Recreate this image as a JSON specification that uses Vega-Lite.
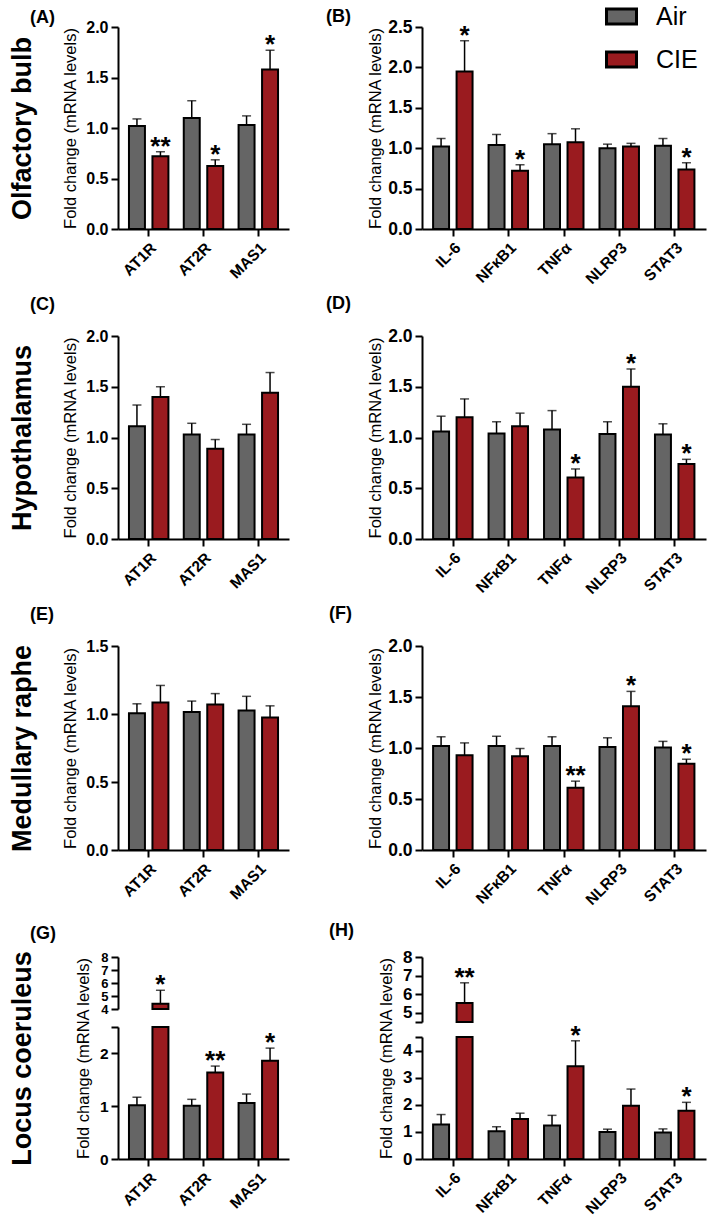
{
  "$schema": "https://vega.github.io/schema/vega-lite/v6.json",
  "padding": {"left": 8, "top": 0, "right": 4, "bottom": 4},
  "datasets": {
    "A": [
      {"gene": "AT1R", "group": "Air", "value": 1.02, "hi": 1.09, "sig": ""},
      {"gene": "AT1R", "group": "CIE", "value": 0.72, "hi": 0.765, "sig": "**"},
      {"gene": "AT2R", "group": "Air", "value": 1.10, "hi": 1.27, "sig": ""},
      {"gene": "AT2R", "group": "CIE", "value": 0.625, "hi": 0.685, "sig": "*"},
      {"gene": "MAS1", "group": "Air", "value": 1.03, "hi": 1.12, "sig": ""},
      {"gene": "MAS1", "group": "CIE", "value": 1.58, "hi": 1.77, "sig": "*"}
    ],
    "B": [
      {"gene": "IL-6", "group": "Air", "value": 1.02, "hi": 1.12, "sig": ""},
      {"gene": "IL-6", "group": "CIE", "value": 1.95, "hi": 2.33, "sig": "*"},
      {"gene": "NFκB1", "group": "Air", "value": 1.04, "hi": 1.17, "sig": ""},
      {"gene": "NFκB1", "group": "CIE", "value": 0.72, "hi": 0.795, "sig": "*"},
      {"gene": "TNFα", "group": "Air", "value": 1.05, "hi": 1.18, "sig": ""},
      {"gene": "TNFα", "group": "CIE", "value": 1.075, "hi": 1.24, "sig": ""},
      {"gene": "NLRP3", "group": "Air", "value": 1.00, "hi": 1.05, "sig": ""},
      {"gene": "NLRP3", "group": "CIE", "value": 1.02, "hi": 1.06, "sig": ""},
      {"gene": "STAT3", "group": "Air", "value": 1.03, "hi": 1.12, "sig": ""},
      {"gene": "STAT3", "group": "CIE", "value": 0.735, "hi": 0.82, "sig": "*"}
    ],
    "C": [
      {"gene": "AT1R", "group": "Air", "value": 1.11, "hi": 1.32, "sig": ""},
      {"gene": "AT1R", "group": "CIE", "value": 1.40, "hi": 1.50, "sig": ""},
      {"gene": "AT2R", "group": "Air", "value": 1.03, "hi": 1.14, "sig": ""},
      {"gene": "AT2R", "group": "CIE", "value": 0.89, "hi": 0.98, "sig": ""},
      {"gene": "MAS1", "group": "Air", "value": 1.03, "hi": 1.13, "sig": ""},
      {"gene": "MAS1", "group": "CIE", "value": 1.44, "hi": 1.64, "sig": ""}
    ],
    "D": [
      {"gene": "IL-6", "group": "Air", "value": 1.06, "hi": 1.21, "sig": ""},
      {"gene": "IL-6", "group": "CIE", "value": 1.20, "hi": 1.38, "sig": ""},
      {"gene": "NFκB1", "group": "Air", "value": 1.04, "hi": 1.155, "sig": ""},
      {"gene": "NFκB1", "group": "CIE", "value": 1.11, "hi": 1.24, "sig": ""},
      {"gene": "TNFα", "group": "Air", "value": 1.08, "hi": 1.265, "sig": ""},
      {"gene": "TNFα", "group": "CIE", "value": 0.605, "hi": 0.69, "sig": "*"},
      {"gene": "NLRP3", "group": "Air", "value": 1.035, "hi": 1.155, "sig": ""},
      {"gene": "NLRP3", "group": "CIE", "value": 1.50, "hi": 1.675, "sig": "*"},
      {"gene": "STAT3", "group": "Air", "value": 1.03, "hi": 1.135, "sig": ""},
      {"gene": "STAT3", "group": "CIE", "value": 0.74, "hi": 0.785, "sig": "*"}
    ],
    "E": [
      {"gene": "AT1R", "group": "Air", "value": 1.005, "hi": 1.075, "sig": ""},
      {"gene": "AT1R", "group": "CIE", "value": 1.085, "hi": 1.21, "sig": ""},
      {"gene": "AT2R", "group": "Air", "value": 1.015, "hi": 1.095, "sig": ""},
      {"gene": "AT2R", "group": "CIE", "value": 1.07, "hi": 1.15, "sig": ""},
      {"gene": "MAS1", "group": "Air", "value": 1.025, "hi": 1.13, "sig": ""},
      {"gene": "MAS1", "group": "CIE", "value": 0.975, "hi": 1.06, "sig": ""}
    ],
    "F": [
      {"gene": "IL-6", "group": "Air", "value": 1.02, "hi": 1.11, "sig": ""},
      {"gene": "IL-6", "group": "CIE", "value": 0.93, "hi": 1.05, "sig": ""},
      {"gene": "NFκB1", "group": "Air", "value": 1.02, "hi": 1.115, "sig": ""},
      {"gene": "NFκB1", "group": "CIE", "value": 0.92, "hi": 0.995, "sig": ""},
      {"gene": "TNFα", "group": "Air", "value": 1.02, "hi": 1.11, "sig": ""},
      {"gene": "TNFα", "group": "CIE", "value": 0.61, "hi": 0.675, "sig": "**"},
      {"gene": "NLRP3", "group": "Air", "value": 1.01, "hi": 1.10, "sig": ""},
      {"gene": "NLRP3", "group": "CIE", "value": 1.41, "hi": 1.555, "sig": "*"},
      {"gene": "STAT3", "group": "Air", "value": 1.005, "hi": 1.065, "sig": ""},
      {"gene": "STAT3", "group": "CIE", "value": 0.845, "hi": 0.89, "sig": "*"}
    ],
    "G": [
      {"gene": "AT1R", "group": "Air", "value": 1.02, "hi": 1.17, "sig": ""},
      {"gene": "AT1R", "group": "CIE", "value": 4.41, "hi": 5.44, "sig": "*"},
      {"gene": "AT2R", "group": "Air", "value": 1.01, "hi": 1.13, "sig": ""},
      {"gene": "AT2R", "group": "CIE", "value": 1.64, "hi": 1.76, "sig": "**"},
      {"gene": "MAS1", "group": "Air", "value": 1.06, "hi": 1.23, "sig": ""},
      {"gene": "MAS1", "group": "CIE", "value": 1.86, "hi": 2.10, "sig": "*"}
    ],
    "H": [
      {"gene": "IL-6", "group": "Air", "value": 1.27, "hi": 1.64, "sig": ""},
      {"gene": "IL-6", "group": "CIE", "value": 5.52, "hi": 6.61, "sig": "**"},
      {"gene": "NFκB1", "group": "Air", "value": 1.02, "hi": 1.19, "sig": ""},
      {"gene": "NFκB1", "group": "CIE", "value": 1.48, "hi": 1.69, "sig": ""},
      {"gene": "TNFα", "group": "Air", "value": 1.24, "hi": 1.61, "sig": ""},
      {"gene": "TNFα", "group": "CIE", "value": 3.42, "hi": 4.36, "sig": "*"},
      {"gene": "NLRP3", "group": "Air", "value": 1.00, "hi": 1.10, "sig": ""},
      {"gene": "NLRP3", "group": "CIE", "value": 1.96, "hi": 2.58, "sig": ""},
      {"gene": "STAT3", "group": "Air", "value": 0.98, "hi": 1.11, "sig": ""},
      {"gene": "STAT3", "group": "CIE", "value": 1.78, "hi": 2.09, "sig": "*"}
    ]
  },
  "concat": [
    {
      "width": 171, "height": 202,
      "title": {"text": "(A)", "frame": "group", "dx": -88, "offset": -8},
      "data": {"name": "A"},
      "encoding": {
        "x": {"field": "gene", "type": "nominal", "sort": null, "scale": {"paddingInner": 0.28, "paddingOuter": 0.2}, "axis": {"title": null}},
        "xOffset": {"field": "group", "type": "nominal", "scale": {"paddingInner": 0.32, "paddingOuter": 0}}
      },
      "layer": [
        {"layer": [
          {"mark": {"type": "bar", "stroke": "black", "strokeWidth": 2},
           "encoding": {
             "y": {"field": "value", "type": "quantitative", "scale": {"domain": [0, 2], "nice": false}, "axis": {"title": "Fold change (mRNA levels)", "values": [0, 0.5, 1, 1.5, 2], "format": ".1f", "labelFontSize": 16}},
             "color": {"field": "group", "type": "nominal", "scale": {"domain": ["Air", "CIE"], "range": ["#656565", "#9a1b1f"]}, "legend": {"title": null, "orient": "none", "legendX": 487, "legendY": -27}}
           }},
          {"mark": {"type": "rule", "color": "black", "strokeWidth": 1.5}, "encoding": {"y": {"field": "value", "type": "quantitative"}, "y2": {"field": "hi"}}},
          {"mark": {"type": "tick", "color": "black", "thickness": 1.5, "size": 9, "orient": "horizontal"}, "encoding": {"y": {"field": "hi", "type": "quantitative"}}},
          {"mark": {"type": "text", "fontSize": 26, "fontWeight": "bold", "baseline": "alphabetic", "dy": 3, "color": "black"}, "encoding": {"y": {"field": "hi", "type": "quantitative"}, "text": {"field": "sig"}}}
        ]},
        {"transform": [{"filter": "datum.value < 0"}], "mark": {"type": "rule"}, "encoding": {"y": {"field": "value", "type": "quantitative", "scale": {"domain": [0, 1]}, "axis": {"title": "Olfactory bulb", "orient": "left", "offset": 76, "labels": false, "ticks": false, "domain": false, "titleFontSize": 27, "titleFontWeight": "bold", "titlePadding": 6}}}}
      ],
      "resolve": {"scale": {"y": "independent"}, "axis": {"y": "independent"}}
    },
    {
      "width": 284, "height": 202,
      "title": {"text": "(B)", "frame": "group", "dx": -96, "offset": -8},
      "data": {"name": "B"},
      "encoding": {
        "x": {"field": "gene", "type": "nominal", "sort": null, "scale": {"paddingInner": 0.28, "paddingOuter": 0.2}, "axis": {"title": null}},
        "xOffset": {"field": "group", "type": "nominal", "scale": {"paddingInner": 0.32, "paddingOuter": 0}}
      },
      "layer": [
        {"mark": {"type": "bar", "stroke": "black", "strokeWidth": 2},
         "encoding": {
           "y": {"field": "value", "type": "quantitative", "scale": {"domain": [0, 2.5], "nice": false}, "axis": {"title": "Fold change (mRNA levels)", "values": [0, 0.5, 1, 1.5, 2, 2.5], "format": ".1f", "labelFontSize": 17.5, "titlePadding": 4}},
           "color": {"field": "group", "type": "nominal", "scale": {"domain": ["Air", "CIE"], "range": ["#656565", "#9a1b1f"]}, "legend": {"title": null, "orient": "none", "legendX": 487, "legendY": -27}}
         }},
        {"mark": {"type": "rule", "color": "black", "strokeWidth": 1.5}, "encoding": {"y": {"field": "value", "type": "quantitative"}, "y2": {"field": "hi"}}},
        {"mark": {"type": "tick", "color": "black", "thickness": 1.5, "size": 9, "orient": "horizontal"}, "encoding": {"y": {"field": "hi", "type": "quantitative"}}},
        {"mark": {"type": "text", "fontSize": 26, "fontWeight": "bold", "baseline": "alphabetic", "dy": 3, "color": "black"}, "encoding": {"y": {"field": "hi", "type": "quantitative"}, "text": {"field": "sig"}}}
      ]
    },
    {
      "width": 171, "height": 203,
      "title": {"text": "(C)", "frame": "group", "dx": -88, "offset": 14},
      "data": {"name": "C"},
      "encoding": {
        "x": {"field": "gene", "type": "nominal", "sort": null, "scale": {"paddingInner": 0.28, "paddingOuter": 0.2}, "axis": {"title": null}},
        "xOffset": {"field": "group", "type": "nominal", "scale": {"paddingInner": 0.32, "paddingOuter": 0}}
      },
      "layer": [
        {"layer": [
          {"mark": {"type": "bar", "stroke": "black", "strokeWidth": 2},
           "encoding": {
             "y": {"field": "value", "type": "quantitative", "scale": {"domain": [0, 2], "nice": false}, "axis": {"title": "Fold change (mRNA levels)", "values": [0, 0.5, 1, 1.5, 2], "format": ".1f", "labelFontSize": 16}},
             "color": {"field": "group", "type": "nominal", "scale": {"domain": ["Air", "CIE"], "range": ["#656565", "#9a1b1f"]}, "legend": {"title": null, "orient": "none", "legendX": 487, "legendY": -27}}
           }},
          {"mark": {"type": "rule", "color": "black", "strokeWidth": 1.5}, "encoding": {"y": {"field": "value", "type": "quantitative"}, "y2": {"field": "hi"}}},
          {"mark": {"type": "tick", "color": "black", "thickness": 1.5, "size": 9, "orient": "horizontal"}, "encoding": {"y": {"field": "hi", "type": "quantitative"}}},
          {"mark": {"type": "text", "fontSize": 26, "fontWeight": "bold", "baseline": "alphabetic", "dy": 3, "color": "black"}, "encoding": {"y": {"field": "hi", "type": "quantitative"}, "text": {"field": "sig"}}}
        ]},
        {"transform": [{"filter": "datum.value < 0"}], "mark": {"type": "rule"}, "encoding": {"y": {"field": "value", "type": "quantitative", "scale": {"domain": [0, 1]}, "axis": {"title": "Hypothalamus", "orient": "left", "offset": 76, "labels": false, "ticks": false, "domain": false, "titleFontSize": 27, "titleFontWeight": "bold", "titlePadding": 6}}}}
      ],
      "resolve": {"scale": {"y": "independent"}, "axis": {"y": "independent"}}
    },
    {
      "width": 284, "height": 203,
      "title": {"text": "(D)", "frame": "group", "dx": -96, "offset": 14},
      "data": {"name": "D"},
      "encoding": {
        "x": {"field": "gene", "type": "nominal", "sort": null, "scale": {"paddingInner": 0.28, "paddingOuter": 0.2}, "axis": {"title": null}},
        "xOffset": {"field": "group", "type": "nominal", "scale": {"paddingInner": 0.32, "paddingOuter": 0}}
      },
      "layer": [
        {"mark": {"type": "bar", "stroke": "black", "strokeWidth": 2},
         "encoding": {
           "y": {"field": "value", "type": "quantitative", "scale": {"domain": [0, 2], "nice": false}, "axis": {"title": "Fold change (mRNA levels)", "values": [0, 0.5, 1, 1.5, 2], "format": ".1f", "labelFontSize": 17.5, "titlePadding": 4}},
           "color": {"field": "group", "type": "nominal", "scale": {"domain": ["Air", "CIE"], "range": ["#656565", "#9a1b1f"]}, "legend": {"title": null, "orient": "none", "legendX": 487, "legendY": -27}}
         }},
        {"mark": {"type": "rule", "color": "black", "strokeWidth": 1.5}, "encoding": {"y": {"field": "value", "type": "quantitative"}, "y2": {"field": "hi"}}},
        {"mark": {"type": "tick", "color": "black", "thickness": 1.5, "size": 9, "orient": "horizontal"}, "encoding": {"y": {"field": "hi", "type": "quantitative"}}},
        {"mark": {"type": "text", "fontSize": 26, "fontWeight": "bold", "baseline": "alphabetic", "dy": 3, "color": "black"}, "encoding": {"y": {"field": "hi", "type": "quantitative"}, "text": {"field": "sig"}}}
      ]
    },
    {
      "width": 171, "height": 204,
      "title": {"text": "(E)", "frame": "group", "dx": -88, "offset": 14},
      "data": {"name": "E"},
      "encoding": {
        "x": {"field": "gene", "type": "nominal", "sort": null, "scale": {"paddingInner": 0.28, "paddingOuter": 0.2}, "axis": {"title": null}},
        "xOffset": {"field": "group", "type": "nominal", "scale": {"paddingInner": 0.32, "paddingOuter": 0}}
      },
      "layer": [
        {"layer": [
          {"mark": {"type": "bar", "stroke": "black", "strokeWidth": 2},
           "encoding": {
             "y": {"field": "value", "type": "quantitative", "scale": {"domain": [0, 1.5], "nice": false}, "axis": {"title": "Fold change (mRNA levels)", "values": [0, 0.5, 1, 1.5], "format": ".1f", "labelFontSize": 16}},
             "color": {"field": "group", "type": "nominal", "scale": {"domain": ["Air", "CIE"], "range": ["#656565", "#9a1b1f"]}, "legend": {"title": null, "orient": "none", "legendX": 487, "legendY": -27}}
           }},
          {"mark": {"type": "rule", "color": "black", "strokeWidth": 1.5}, "encoding": {"y": {"field": "value", "type": "quantitative"}, "y2": {"field": "hi"}}},
          {"mark": {"type": "tick", "color": "black", "thickness": 1.5, "size": 9, "orient": "horizontal"}, "encoding": {"y": {"field": "hi", "type": "quantitative"}}},
          {"mark": {"type": "text", "fontSize": 26, "fontWeight": "bold", "baseline": "alphabetic", "dy": 3, "color": "black"}, "encoding": {"y": {"field": "hi", "type": "quantitative"}, "text": {"field": "sig"}}}
        ]},
        {"transform": [{"filter": "datum.value < 0"}], "mark": {"type": "rule"}, "encoding": {"y": {"field": "value", "type": "quantitative", "scale": {"domain": [0, 1]}, "axis": {"title": "Medullary raphe", "orient": "left", "offset": 76, "labels": false, "ticks": false, "domain": false, "titleFontSize": 27, "titleFontWeight": "bold", "titlePadding": 6}}}}
      ],
      "resolve": {"scale": {"y": "independent"}, "axis": {"y": "independent"}}
    },
    {
      "width": 284, "height": 204,
      "title": {"text": "(F)", "frame": "group", "dx": -93, "offset": 14},
      "data": {"name": "F"},
      "encoding": {
        "x": {"field": "gene", "type": "nominal", "sort": null, "scale": {"paddingInner": 0.28, "paddingOuter": 0.2}, "axis": {"title": null}},
        "xOffset": {"field": "group", "type": "nominal", "scale": {"paddingInner": 0.32, "paddingOuter": 0}}
      },
      "layer": [
        {"mark": {"type": "bar", "stroke": "black", "strokeWidth": 2},
         "encoding": {
           "y": {"field": "value", "type": "quantitative", "scale": {"domain": [0, 2], "nice": false}, "axis": {"title": "Fold change (mRNA levels)", "values": [0, 0.5, 1, 1.5, 2], "format": ".1f", "labelFontSize": 17.5, "titlePadding": 4}},
           "color": {"field": "group", "type": "nominal", "scale": {"domain": ["Air", "CIE"], "range": ["#656565", "#9a1b1f"]}, "legend": {"title": null, "orient": "none", "legendX": 487, "legendY": -27}}
         }},
        {"mark": {"type": "rule", "color": "black", "strokeWidth": 1.5}, "encoding": {"y": {"field": "value", "type": "quantitative"}, "y2": {"field": "hi"}}},
        {"mark": {"type": "tick", "color": "black", "thickness": 1.5, "size": 9, "orient": "horizontal"}, "encoding": {"y": {"field": "hi", "type": "quantitative"}}},
        {"mark": {"type": "text", "fontSize": 26, "fontWeight": "bold", "baseline": "alphabetic", "dy": 3, "color": "black"}, "encoding": {"y": {"field": "hi", "type": "quantitative"}, "text": {"field": "sig"}}}
      ]
    },
    {
      "width": 171, "height": 202,
      "title": {"text": "(G)", "frame": "group", "dx": -88, "offset": 8},
      "data": {"name": "G"},
      "encoding": {
        "x": {"field": "gene", "type": "nominal", "sort": null, "scale": {"paddingInner": 0.28, "paddingOuter": 0.2}, "axis": {"title": null}},
        "xOffset": {"field": "group", "type": "nominal", "scale": {"paddingInner": 0.32, "paddingOuter": 0}}
      },
      "layer": [
        {
          "layer": [
            {"mark": {"type": "bar", "stroke": "black", "strokeWidth": 2},
             "encoding": {
               "y": {"field": "value", "type": "quantitative", "scale": {"domain": [0, 2.5], "range": [202, 70], "clamp": true, "nice": false}, "axis": {"title": "Fold change (mRNA levels)", "values": [0, 1, 2, 2.5], "labelExpr": "datum.value == 2.5 ? '' : format(datum.value, 'd')", "labelOverlap": false, "labelFontSize": 15.5, "titleX": -27, "titleY": 101}},
               "color": {"field": "group", "type": "nominal", "scale": {"domain": ["Air", "CIE"], "range": ["#656565", "#9a1b1f"]}, "legend": {"title": null, "orient": "none", "legendX": 487, "legendY": -27}}
             }},
            {"transform": [{"filter": "datum.hi < 2.5"}], "mark": {"type": "rule", "color": "black", "strokeWidth": 1.5}, "encoding": {"y": {"field": "value", "type": "quantitative"}, "y2": {"field": "hi"}}},
            {"transform": [{"filter": "datum.hi < 2.5"}], "mark": {"type": "tick", "color": "black", "thickness": 1.5, "size": 9, "orient": "horizontal"}, "encoding": {"y": {"field": "hi", "type": "quantitative"}}},
            {"transform": [{"filter": "datum.hi < 2.5"}], "mark": {"type": "text", "fontSize": 26, "fontWeight": "bold", "baseline": "alphabetic", "dy": 3, "color": "black"}, "encoding": {"y": {"field": "hi", "type": "quantitative"}, "text": {"field": "sig"}}}
          ]
        },
        {
          "transform": [{"filter": "datum.value > 4"}],
          "layer": [
            {"mark": {"type": "bar", "stroke": "black", "strokeWidth": 2},
             "encoding": {
               "y": {"field": "value", "type": "quantitative", "scale": {"domain": [4, 8], "range": [52, 0], "zero": false, "clamp": true, "nice": false}, "axis": {"title": null, "orient": "left", "values": [4, 5, 6, 7, 8], "format": "d", "labelFontSize": 13, "labelOverlap": false, "labelFlush": false}},
               "y2": {"datum": 4},
               "color": {"field": "group", "type": "nominal", "scale": {"domain": ["Air", "CIE"], "range": ["#656565", "#9a1b1f"]}, "legend": {"title": null, "orient": "none", "legendX": 487, "legendY": -27}}
             }},
            {"mark": {"type": "rule", "color": "black", "strokeWidth": 1.5}, "encoding": {"y": {"field": "value", "type": "quantitative"}, "y2": {"field": "hi"}}},
            {"mark": {"type": "tick", "color": "black", "thickness": 1.5, "size": 9, "orient": "horizontal"}, "encoding": {"y": {"field": "hi", "type": "quantitative"}}},
            {"mark": {"type": "text", "fontSize": 26, "fontWeight": "bold", "baseline": "alphabetic", "dy": 3, "color": "black"}, "encoding": {"y": {"field": "hi", "type": "quantitative"}, "text": {"field": "sig"}}}
          ]
        },
        {"transform": [{"filter": "datum.value < 0"}], "mark": {"type": "rule"}, "encoding": {"y": {"field": "value", "type": "quantitative", "scale": {"domain": [0, 1]}, "axis": {"title": "Locus coeruleus", "orient": "left", "offset": 76, "labels": false, "ticks": false, "domain": false, "titleFontSize": 27, "titleFontWeight": "bold", "titlePadding": 6}}}}
      ],
      "resolve": {"scale": {"y": "independent"}, "axis": {"y": "independent"}}
    },
    {
      "width": 284, "height": 202,
      "title": {"text": "(H)", "frame": "group", "dx": -93, "offset": 8},
      "data": {"name": "H"},
      "encoding": {
        "x": {"field": "gene", "type": "nominal", "sort": null, "scale": {"paddingInner": 0.28, "paddingOuter": 0.2}, "axis": {"title": null}},
        "xOffset": {"field": "group", "type": "nominal", "scale": {"paddingInner": 0.32, "paddingOuter": 0}}
      },
      "layer": [
        {
          "layer": [
            {"mark": {"type": "bar", "stroke": "black", "strokeWidth": 2},
             "encoding": {
               "y": {"field": "value", "type": "quantitative", "scale": {"domain": [0, 4.5], "range": [202, 80], "clamp": true, "nice": false}, "axis": {"title": "Fold change (mRNA levels)", "values": [0, 1, 2, 3, 4, 4.5], "labelExpr": "datum.value == 4.5 ? '' : format(datum.value, 'd')", "labelOverlap": false, "labelFontSize": 17, "titleX": -28, "titleY": 101}},
               "color": {"field": "group", "type": "nominal", "scale": {"domain": ["Air", "CIE"], "range": ["#656565", "#9a1b1f"]}, "legend": {"title": null, "orient": "none", "legendX": 487, "legendY": -27}}
             }},
            {"transform": [{"filter": "datum.hi < 4.5"}], "mark": {"type": "rule", "color": "black", "strokeWidth": 1.5}, "encoding": {"y": {"field": "value", "type": "quantitative"}, "y2": {"field": "hi"}}},
            {"transform": [{"filter": "datum.hi < 4.5"}], "mark": {"type": "tick", "color": "black", "thickness": 1.5, "size": 9, "orient": "horizontal"}, "encoding": {"y": {"field": "hi", "type": "quantitative"}}},
            {"transform": [{"filter": "datum.hi < 4.5"}], "mark": {"type": "text", "fontSize": 26, "fontWeight": "bold", "baseline": "alphabetic", "dy": 3, "color": "black"}, "encoding": {"y": {"field": "hi", "type": "quantitative"}, "text": {"field": "sig"}}}
          ]
        },
        {
          "transform": [{"filter": "datum.value > 4.5"}],
          "layer": [
            {"mark": {"type": "bar", "stroke": "black", "strokeWidth": 2},
             "encoding": {
               "y": {"field": "value", "type": "quantitative", "scale": {"domain": [4.5, 8], "range": [65, 0], "zero": false, "clamp": true, "nice": false}, "axis": {"title": null, "orient": "left", "values": [4.5, 5, 6, 7, 8], "labelExpr": "datum.value == 4.5 ? '' : format(datum.value, 'd')", "labelOverlap": false, "labelFlush": false, "labelFontSize": 17}},
               "y2": {"datum": 4.5},
               "color": {"field": "group", "type": "nominal", "scale": {"domain": ["Air", "CIE"], "range": ["#656565", "#9a1b1f"]}, "legend": {"title": null, "orient": "none", "legendX": 487, "legendY": -27}}
             }},
            {"mark": {"type": "rule", "color": "black", "strokeWidth": 1.5}, "encoding": {"y": {"field": "value", "type": "quantitative"}, "y2": {"field": "hi"}}},
            {"mark": {"type": "tick", "color": "black", "thickness": 1.5, "size": 9, "orient": "horizontal"}, "encoding": {"y": {"field": "hi", "type": "quantitative"}}},
            {"mark": {"type": "text", "fontSize": 26, "fontWeight": "bold", "baseline": "alphabetic", "dy": 3, "color": "black"}, "encoding": {"y": {"field": "hi", "type": "quantitative"}, "text": {"field": "sig"}}}
          ]
        }
      ],
      "resolve": {"scale": {"y": "independent"}, "axis": {"y": "independent"}}
    }
  ],
  "columns": 2,
  "spacing": {"row": 107, "column": 133},
  "bounds": "flush",
  "config": {
    "font": "Liberation Sans",
    "view": {"stroke": null},
    "axis": {"domainColor": "black", "domainWidth": 2, "tickColor": "black", "tickWidth": 2, "tickSize": 7, "labelColor": "black", "labelFont": "Liberation Sans", "labelFontWeight": "bold", "labelFontSize": 15, "labelPadding": 3, "labelOverlap": false, "titleFont": "Liberation Sans", "titleFontWeight": "normal", "titleFontSize": 16.5, "titleColor": "black", "titlePadding": 7, "grid": false},
    "axisX": {"labelAngle": -45, "labelFontSize": 15.5, "tickSize": 7, "labelPadding": 4},
    "title": {"font": "Liberation Sans", "fontSize": 18, "fontWeight": "bold", "color": "black", "anchor": "start"},
    "legend": {"padding": 0, "symbolType": "M-1,-0.5H1V0.5H-1Z", "symbolSize": 900, "symbolStrokeColor": "black", "symbolStrokeWidth": 3, "labelFont": "Liberation Sans", "labelFontSize": 25, "labelColor": "black", "labelOffset": 18, "rowPadding": 13}
  }
}
